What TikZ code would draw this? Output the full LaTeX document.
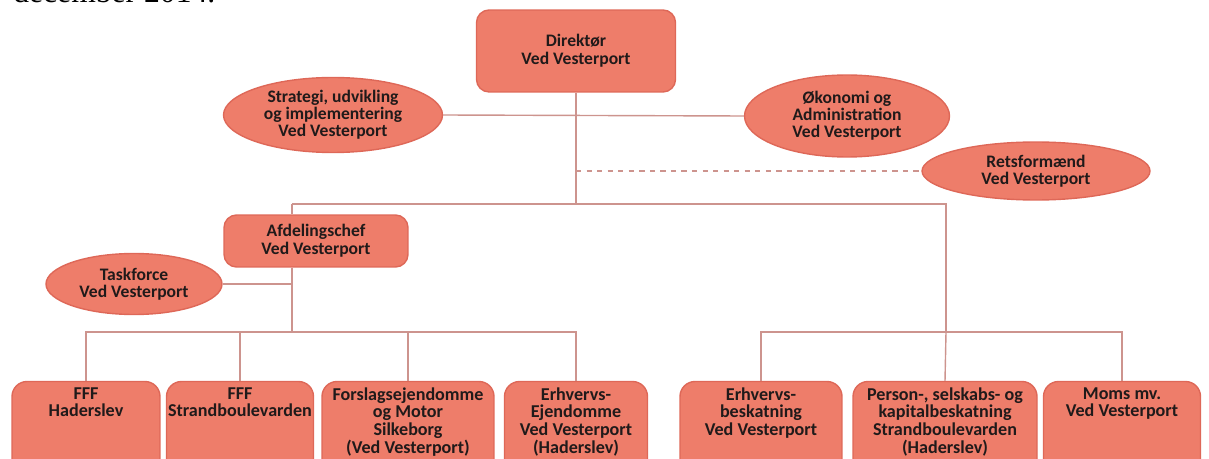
\documentclass[tikz,border=0pt]{standalone}
\usepackage{fontspec}
\setmainfont{Carlito}
\newfontfamily\headfont{Liberation Serif}
\usetikzlibrary{shapes.geometric}
\definecolor{boxfill}{RGB}{238,125,106}
\definecolor{boxedge}{RGB}{222,104,88}
\definecolor{linkcol}{RGB}{205,148,142}
\definecolor{inkcol}{RGB}{32,26,26}
\begin{document}
\begin{tikzpicture}[x=0.02cm,y=-0.02cm,
    box/.style={draw=boxedge,fill=boxfill,line width=0.8pt,rounded corners=0.25cm,inner sep=0pt},
    oval/.style={ellipse,draw=boxedge,fill=boxfill,line width=0.8pt,inner sep=0pt,
        text=inkcol,font=\fontsize{10}{9.8}\selectfont\bfseries,align=center},
    lowbox/.style={box,rounded corners=0.3cm,minimum height=1.9cm},
    boxtext/.style={text=inkcol,font=\fontsize{10}{10}\selectfont\bfseries,align=center,inner sep=0pt},
    lowtext/.style={boxtext,font=\fontsize{10.3}{10}\selectfont\bfseries},
    link/.style={draw=linkcol,line width=0.8pt},
    dashlink/.style={link,dashed}]
\useasboundingbox (0,0) rectangle (1209,459);

% cut-off line above the chart
\node[anchor=base west,inner sep=0pt,font=\headfont\fontsize{18}{18}\selectfont] (head) at (13,3) {december 2014.};

% top level
\node[box,minimum width=3.98cm,minimum height=1.64cm,boxtext] (dir) at (576,51) {Direktør\\Ved Vesterport};
\node[oval,minimum width=4.38cm,minimum height=1.5cm] (strat) at (333,115) {Strategi, udvikling\\og implementering\\Ved Vesterport};
\node[oval,minimum width=4.1cm,minimum height=1.64cm] (oko) at (847,116) {Økonomi og\\Administration\\Ved Vesterport};
\node[oval,minimum width=4.56cm,minimum height=1.16cm] (rets) at (1036,171) {Retsformænd\\Ved Vesterport};

% middle level
\node[box,minimum width=3.68cm,minimum height=1.04cm,boxtext] (afd) at (316,241) {Afdelingschef\\Ved Vesterport};
\node[oval,minimum width=3.52cm,minimum height=1.22cm] (task) at (134,284) {Taskforce\\Ved Vesterport};

\coordinate (top) at (576,204);
\coordinate (jl) at (292,204);
\coordinate (jr) at (946,204);
\coordinate (lowl) at (292,332);
\coordinate (lowr) at (946,332);

% bottom level
\node[lowbox,minimum width=2.96cm] (b1) at (86,429) {};
\node[lowbox,minimum width=2.94cm] (b2) at (240,429) {};
\node[lowbox,minimum width=3.44cm] (b3) at (408,429) {};
\node[lowbox,minimum width=2.86cm] (b4) at (576,429) {};
\node[lowbox,minimum width=3.24cm] (b5) at (761,429) {};
\node[lowbox,minimum width=3.68cm] (b6) at (945,429) {};
\node[lowbox,minimum width=3.14cm] (b7) at (1122,429) {};

\node[lowtext,anchor=north] (t1) at ([yshift=-0.13cm]b1.north) {FFF\\Haderslev};
\node[lowtext,anchor=north] (t2) at ([yshift=-0.13cm]b2.north) {FFF\\Strandboulevarden};
\node[lowtext,anchor=north] (t3) at ([yshift=-0.13cm]b3.north) {Forslagsejendomme\\og Motor\\Silkeborg\\(Ved Vesterport)};
\node[lowtext,anchor=north] (t4) at ([yshift=-0.13cm]b4.north) {Erhvervs-\\Ejendomme\\Ved Vesterport\\(Haderslev)};
\node[lowtext,anchor=north] (t5) at ([yshift=-0.13cm]b5.north) {Erhvervs-\\beskatning\\Ved Vesterport};
\node[lowtext,anchor=north] (t6) at ([yshift=-0.13cm]b6.north) {Person-, selskabs- og\\kapitalbeskatning\\Strandboulevarden\\(Haderslev)};
\node[lowtext,anchor=north] (t7) at ([yshift=-0.13cm]b7.north) {Moms mv.\\Ved Vesterport};

% connectors
\draw[link] (dir.south) -- (top);
\draw[link] (strat.east) -- (oko.west);
\draw[dashlink] (dir.south |- rets.west) -- (rets.west);
\draw[link] (jl) -- (jr) -- (lowr);
\draw[link] (jl) -- (afd.north -| jl);
\draw[link] (afd.south -| jl) -- (lowl);
\draw[link] (task.east) -- (task.east -| jl);
\draw[link] (b1.north) |- (lowl) -| (b4.north);
\foreach \b in {b2,b3}
    \draw[link] (\b.north) -- (\b.north |- lowl);
\draw[link] (b5.north) |- (lowr) -| (b7.north);
\draw[link] (lowr) -- (b6.north);
\end{tikzpicture}
\end{document}
